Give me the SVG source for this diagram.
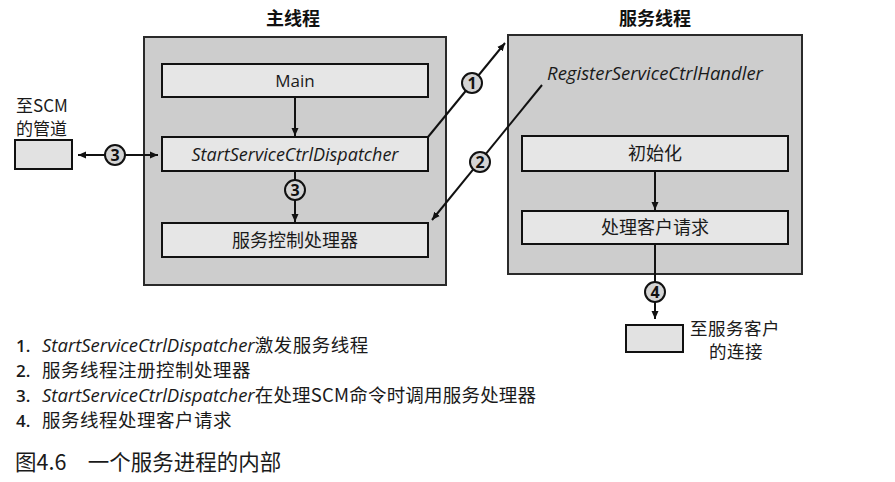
<svg xmlns="http://www.w3.org/2000/svg" width="895" height="482" viewBox="0 0 895 482">
<defs>
<style>
.outer{fill:#cdcdcd;stroke:#2a2a2a;stroke-width:2}
.inner{fill:#e6e6e6;stroke:#111;stroke-width:2}
.ext{fill:#e2e2e2;stroke:#111;stroke-width:2}
.cjk{font-family:"Noto Sans CJK SC",sans-serif;fill:#1a1a1a}
.lat{font-family:"Open Sans","Noto Sans CJK SC",sans-serif;fill:#1a1a1a}
.num{font-family:"Open Sans",sans-serif;font-weight:600;fill:#1a1a1a}
.it{font-family:"Open Sans","Noto Sans CJK SC",sans-serif;font-style:italic;fill:#1a1a1a}
.title{font-family:"Noto Sans CJK SC",sans-serif;font-weight:bold;font-size:18px;fill:#111}
.line{stroke:#111;stroke-width:2;fill:none}
.badge circle{fill:#d4d4d4;stroke:#111;stroke-width:2}
.badge text{font-family:"Open Sans",sans-serif;font-weight:bold;font-size:16px;fill:#111;text-anchor:middle}
</style>
<marker id="ah" viewBox="0 0 8 8" refX="8" refY="4" markerWidth="8" markerHeight="8" markerUnits="userSpaceOnUse" orient="auto-start-reverse">
<path d="M0,0.5 L8,4 L0,7.5 z" fill="#111"/>
</marker>
</defs>
<rect width="895" height="482" fill="#fff"/>

<text class="title" x="293" y="25" text-anchor="middle">主线程</text>
<text class="title" x="655" y="25" text-anchor="middle">服务线程</text>

<g id="main-thread">
<rect class="outer" x="144" y="37" width="302" height="248"/>
</g>
<g id="service-thread">
<rect class="outer" x="508" y="35" width="294" height="239"/>
<text class="it" x="655" y="80" font-size="18.5" text-anchor="middle">RegisterServiceCtrlHandler</text>
</g>

<g id="node-main">
<rect class="inner" x="162" y="64" width="266" height="33"/>
<text class="lat" x="295" y="87" font-size="17" text-anchor="middle">Main</text>
</g>
<g id="node-sscd">
<rect class="inner" x="162" y="137" width="266" height="34"/>
<text class="it" x="295" y="161" font-size="18" text-anchor="middle">StartServiceCtrlDispatcher</text>
</g>
<g id="node-handler">
<rect class="inner" x="162" y="223" width="266" height="34"/>
<text class="cjk" x="295" y="247" font-size="18" text-anchor="middle">服务控制处理器</text>
</g>
<g id="node-init">
<rect class="inner" x="522" y="136" width="266" height="35"/>
<text class="cjk" x="655" y="160" font-size="18" text-anchor="middle">初始化</text>
</g>
<g id="node-client">
<rect class="inner" x="522" y="211" width="266" height="33"/>
<text class="cjk" x="655" y="234" font-size="18" text-anchor="middle">处理客户请求</text>
</g>
<g id="node-scm">
<text class="cjk" x="16" y="112" font-size="17">至SCM</text>
<text class="cjk" x="16" y="135" font-size="17">的管道</text>
<rect class="ext" x="15" y="140" width="57" height="29"/>
</g>
<g id="node-clientconn">
<rect class="ext" x="626" y="325" width="57" height="27"/>
<text class="cjk" x="690" y="335" font-size="17.5" letter-spacing="0.5">至服务客户</text>
<text class="cjk" x="736" y="358" font-size="17.5" letter-spacing="0.5" text-anchor="middle">的连接</text>
</g>

<g id="connectors">
<line class="line" x1="295" y1="97" x2="295" y2="136" marker-end="url(#ah)"/>
<line class="line" x1="295" y1="171" x2="295" y2="222" marker-end="url(#ah)"/>
<line class="line" x1="78" y1="155" x2="158" y2="155" marker-start="url(#ah)" marker-end="url(#ah)"/>
<line class="line" x1="428" y1="137" x2="505" y2="43" marker-end="url(#ah)"/>
<line class="line" x1="542" y1="85" x2="432" y2="220" marker-end="url(#ah)"/>
<line class="line" x1="655" y1="171" x2="655" y2="210" marker-end="url(#ah)"/>
<line class="line" x1="655" y1="244" x2="655" y2="319" marker-end="url(#ah)"/>
<g class="badge"><circle cx="115" cy="155" r="10"/><text x="115" y="160.5">3</text></g>
<g class="badge"><circle cx="295" cy="190" r="10"/><text x="295" y="195.5">3</text></g>
<g class="badge"><circle cx="472" cy="83" r="10"/><text x="472" y="88.5">1</text></g>
<g class="badge"><circle cx="480" cy="162" r="10"/><text x="480" y="167.5">2</text></g>
<g class="badge"><circle cx="655" cy="292" r="10"/><text x="655" y="297.5">4</text></g>
</g>

<g id="legend">
<text x="16" y="352" font-size="17"><tspan class="num">1.</tspan><tspan class="it" x="42" font-size="18.5">StartServiceCtrlDispatcher</tspan><tspan class="cjk" font-size="18.5" letter-spacing="0.5">激发服务线程</tspan></text>
<text x="16" y="377" font-size="17"><tspan class="num">2.</tspan><tspan class="cjk" x="42" font-size="18.5" letter-spacing="0.5">服务线程注册控制处理器</tspan></text>
<text x="16" y="402" font-size="17"><tspan class="num">3.</tspan><tspan class="it" x="42" font-size="18.5">StartServiceCtrlDispatcher</tspan><tspan class="cjk" font-size="18.5" letter-spacing="0.2">在处理SCM命令时调用服务处理器</tspan></text>
<text x="16" y="427" font-size="17"><tspan class="num">4.</tspan><tspan class="cjk" x="42" font-size="18.5" letter-spacing="0.5">服务线程处理客户请求</tspan></text>
<text class="cjk" x="15" y="470" font-size="21.5">图4.6　一个服务进程的内部</text>
</g>
</svg>
